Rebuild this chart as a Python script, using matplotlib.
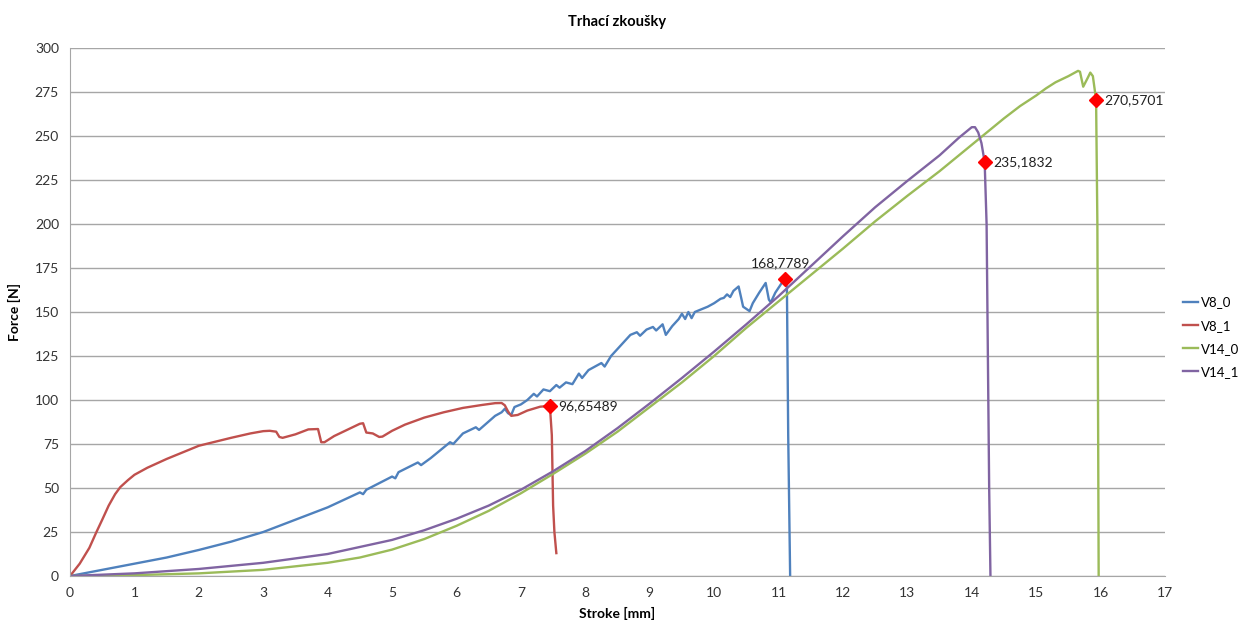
import matplotlib
matplotlib.use('Agg')
import matplotlib.pyplot as plt

plt.rcParams['font.family'] = ['Lato', 'DejaVu Sans']

# V8_0 (blue)
v8_0_x = [0, 0.5, 1.0, 1.5, 2.0, 2.5, 3.0, 3.5, 4.0, 4.5, 4.55, 4.6, 5.0, 5.05, 5.1, 5.4, 5.45,
          5.6, 5.9, 5.95, 6.1, 6.3, 6.35, 6.6, 6.7, 6.75, 6.8, 6.85, 6.9, 7.0, 7.1, 7.2, 7.25,
          7.35, 7.45, 7.55, 7.6, 7.7, 7.8, 7.9, 7.95, 8.05, 8.25, 8.3, 8.4, 8.5, 8.6, 8.7, 8.8,
          8.85, 8.95, 9.05, 9.1, 9.2, 9.25, 9.35, 9.45, 9.5, 9.55, 9.6, 9.65, 9.7, 9.8, 9.9,
          10.0, 10.1, 10.15, 10.2, 10.25, 10.3, 10.38, 10.42, 10.45, 10.55, 10.6, 10.7, 10.8,
          10.85, 10.88, 10.95, 11.05, 11.1, 11.13, 11.15, 11.18]
v8_0_y = [0, 3.5, 7, 10.5, 14.8, 19.5, 25, 32, 39, 47.5, 46.5, 49, 56.5, 55.5, 59, 64.5, 63,
          67, 76, 75, 81, 84.5, 83, 91, 93, 95, 92.5, 91.5, 96, 97.5, 100, 103.5, 102,
          106, 105, 108.5, 107, 110, 109, 115, 112.5, 117, 121, 119, 125, 129, 133, 137, 138.5,
          136.5, 140, 141.5, 139.5, 143, 137, 142, 146, 149, 146, 150, 146.5, 150, 151.5, 153,
          155, 157.5, 158, 160, 158.5, 162, 164.5, 158, 153, 150.5, 155, 161, 166.5,
          157, 155.5, 161, 166.5, 168.7789, 164, 80, 0]

# V8_1 (red)
v8_1_x = [0, 0.15, 0.3, 0.41, 0.5, 0.6, 0.7, 0.78, 0.9, 1.0, 1.2, 1.5, 1.8, 2.0, 2.5, 2.8, 3.0,
          3.1, 3.2, 3.25, 3.3, 3.5, 3.7, 3.85, 3.9, 3.95, 4.1, 4.3, 4.5, 4.55, 4.6, 4.7, 4.8,
          4.85, 5.0, 5.2, 5.5, 5.8, 6.1, 6.4, 6.6, 6.7, 6.75, 6.8, 6.85, 6.95, 7.1, 7.3, 7.45,
          7.48, 7.5, 7.52, 7.55]
v8_1_y = [0, 7, 16, 25, 32, 40, 46.5, 50.5, 54.5, 57.5, 61.5, 66.5, 71, 74, 78.5, 81, 82.3,
          82.5, 82, 79, 78.5, 80.5, 83.3, 83.5, 76, 76, 79.5, 83, 86.5, 86.8, 81.5, 81, 79,
          79.2, 82.5, 86, 90, 93, 95.5, 97.2, 98.2, 98.3, 97, 93.5, 91, 91.5, 94, 96.2, 96.65489,
          80, 40, 25, 13]

# V14_0 (green)
v14_0_x = [0, 1, 2, 3, 4, 4.5, 5, 5.5, 6, 6.5, 7, 7.5, 8, 8.5, 9, 9.5, 10, 10.5, 11, 11.5, 12,
           12.5, 13, 13.5, 14, 14.25, 14.5, 14.75, 15, 15.15, 15.3, 15.5, 15.65, 15.68, 15.73,
           15.8, 15.84, 15.88, 15.93, 15.95, 15.97]
v14_0_y = [0, 0.5, 1.5, 3.5, 7.5, 10.5, 15, 21, 28.5, 37, 47, 58, 69.5, 82, 96, 110, 125, 141,
           156, 171, 186, 201.5, 216, 230, 245, 252.5, 260, 267, 273, 277, 280.5, 284, 287,
           286.5, 278, 283, 286, 284, 270.5701, 200, 0]

# V14_1 (purple)
v14_1_x = [0, 1, 2, 3, 4, 5, 5.5, 6, 6.5, 7, 7.5, 8, 8.5, 9, 9.5, 10, 10.5, 11, 11.5, 12, 12.5,
           13, 13.5, 13.8, 14.0, 14.05, 14.1, 14.15, 14.2, 14.23, 14.27, 14.29]
v14_1_y = [0, 1.5, 4, 7.5, 12.5, 20.5, 26, 32.5, 40, 49, 59.5, 71, 84, 98, 112.5, 127.5, 143,
           159, 176, 193, 209.5, 224.5, 239, 249, 255, 255, 252, 246, 235.1832, 200, 50, 0]

# labelled points
pt_x = [7.45, 11.1, 14.2, 15.93]
pt_y = [96.65489, 168.7789, 235.1832, 270.5701]
pt_labels = ['96,65489', '168,7789', '235,1832', '270,5701']

fig = plt.figure(figsize=(12.44, 6.28), dpi=100)
ax = fig.add_axes([0.0563, 0.0828, 0.8802, 0.8408])

lw = 1.7
ax.plot(v8_0_x, v8_0_y, color='#4F81BD', lw=lw, label='V8_0')
ax.plot(v8_1_x, v8_1_y, color='#C0504D', lw=lw, label='V8_1')
ax.plot(v14_0_x, v14_0_y, color='#9BBB59', lw=lw, label='V14_0')
ax.plot(v14_1_x, v14_1_y, color='#8064A2', lw=lw, label='V14_1')

ax.plot(pt_x, pt_y, 'D', color='#FF0000', ms=7, zorder=5)
for i, (x, y, s) in enumerate(zip(pt_x, pt_y, pt_labels)):
    if i == 1:
        ax.annotate(s, (x, y), xytext=(-3, 7), textcoords='offset points',
                    ha='center', va='bottom', fontsize=10, color='#222222')
    else:
        ax.annotate(s, (x, y), xytext=(6, 0), textcoords='offset points',
                    ha='left', va='center', fontsize=10, color='#222222')

ax.set_xlim(0, 17)
ax.set_ylim(0, 300)
ax.set_xticks(range(0, 18))
ax.set_yticks(range(0, 301, 25))
ax.yaxis.grid(True, color='#A6A6A6', lw=1)
ax.set_axisbelow(True)
for s in ['top', 'right']:
    ax.spines[s].set_visible(False)
ax.spines['left'].set_color('#A6A6A6')
ax.spines['bottom'].set_color('#A6A6A6')
ax.tick_params(length=0, labelsize=10, labelcolor='#333333', pad=8)

ax.set_title('Trhací zkoušky', fontsize=10.5, fontweight='bold', pad=16)
ax.set_xlabel('Stroke [mm]', fontsize=10, fontweight='bold', labelpad=6)
ax.set_ylabel('Force [N]', fontsize=10, fontweight='bold', labelpad=10)

ax.legend(loc='center left', bbox_to_anchor=(0.951, 0.463), bbox_transform=fig.transFigure,
          frameon=False, fontsize=9.5, handlelength=1.1, handletextpad=0.25, labelspacing=0.85,
          borderaxespad=0, borderpad=0)

fig.savefig('out.png', dpi=100)
